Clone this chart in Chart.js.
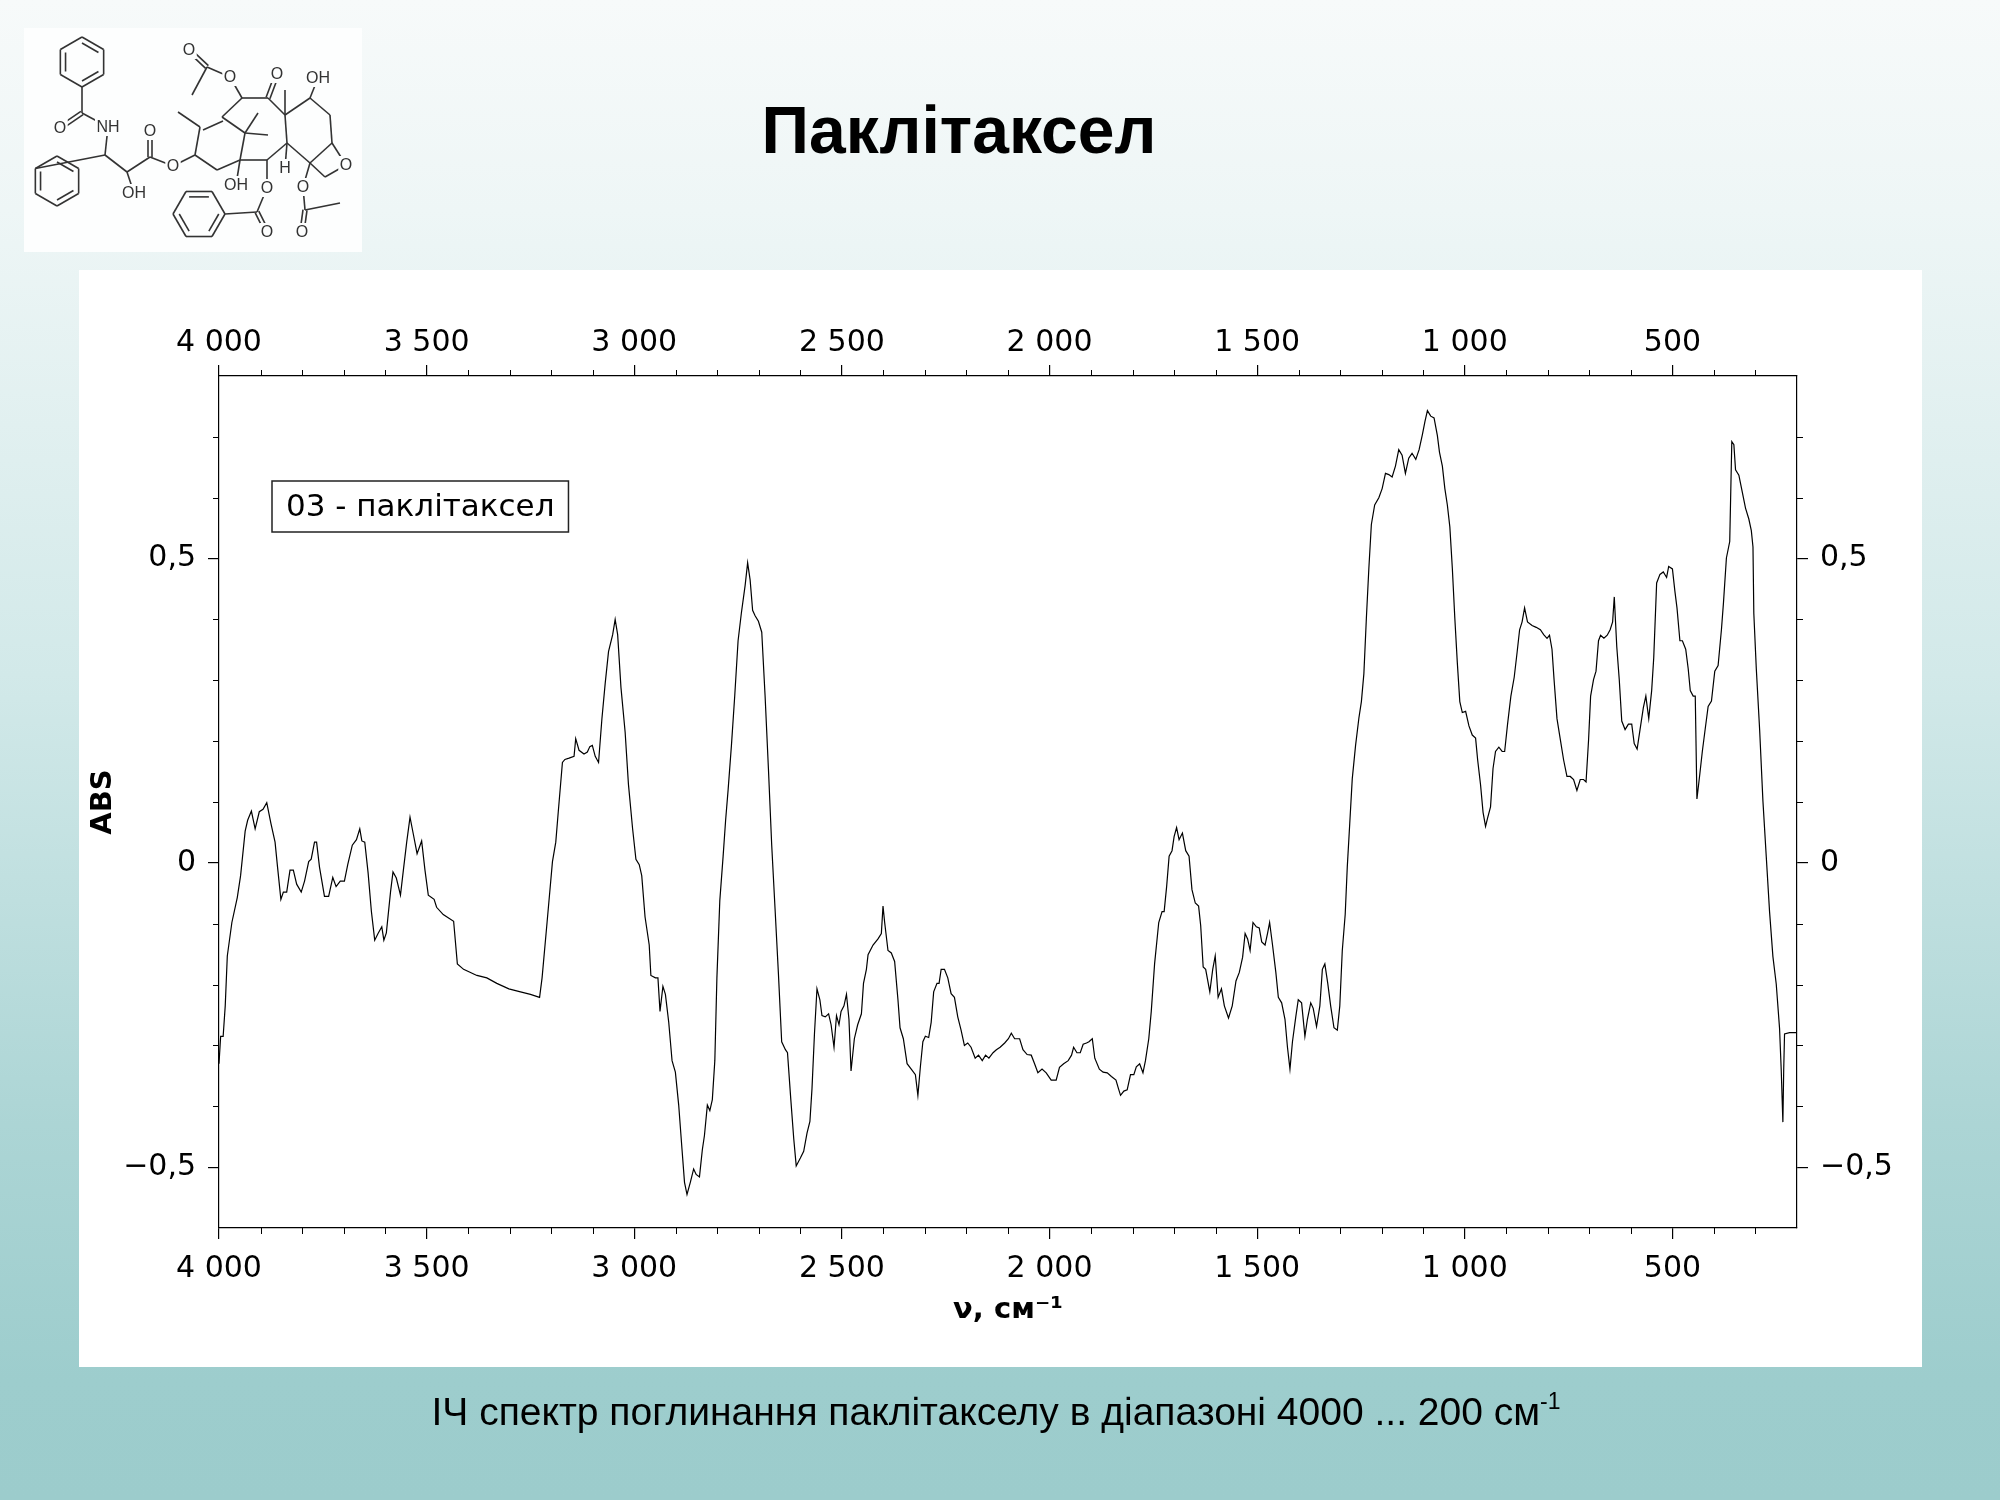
<!DOCTYPE html>
<html>
<head>
<meta charset="utf-8">
<title>Паклітаксел</title>
<script src="https://cdn.jsdelivr.net/npm/chart.js@4.4.0/dist/chart.umd.min.js"></script>
<style>
  body { margin: 0; }
  #page {
    position: relative; width: 2000px; height: 1500px; overflow: hidden;
    background: linear-gradient(to bottom, #f7fafa 0%, #eef6f6 14%, #d2e9e9 45%, #acd5d5 75%, #9dcdcd 92%, #9ccccc 100%);
  }
  #molecule { position: absolute; left: 0; top: 0; }
  .title {
    position: absolute; left: 0; top: 96px; width: 1918px; margin: 0;
    text-align: center; font: bold 66px/68px "Liberation Sans", Arial, sans-serif; color: #000;
  }
  .panel { position: absolute; left: 79px; top: 270px; width: 1843px; height: 1097px; background: #fff; }
  #spectrum { position: absolute; left: 0; top: 0; }
  .caption {
    position: absolute; left: 0; top: 1389px; width: 1992px; margin: 0;
    text-align: center; font: 39px/46px "Liberation Sans", Arial, sans-serif; color: #000;
  }
  .caption sup { font-size: 23px; vertical-align: 16px; line-height: 0; }
</style>
</head>
<body>
<div id="page">
  <canvas id="molecule" width="400" height="280"></canvas>
  <h1 class="title">Паклітаксел</h1>
  <div class="panel"></div>
  <canvas id="spectrum" width="2000" height="1500"></canvas>
  <p class="caption">ІЧ спектр поглинання паклітакселу в діапазоні 4000 ... 200 см<sup>-1</sup></p>
</div>
<script>
// IR spectrum (cm-1 / ABS)
const seriesName = '03 - паклітаксел';
const xTickValues = [4000, 3500, 3000, 2500, 2000, 1500, 1000, 500];
const yTickValues = [-0.5, 0, 0.5];

const wavenumbers = [
  4000, 3996, 3990, 3985, 3980, 3969, 3956, 3948, 3937, 3931, 3922, 3913, 3903, 3894, 3885, 3875,
  3865, 3859, 3851, 3845, 3837, 3829, 3821, 3813, 3802, 3794, 3784, 3778, 3770, 3765, 3758, 3746,
  3736, 3726, 3718, 3708, 3698, 3690, 3679, 3669, 3661, 3656, 3649, 3641, 3633, 3625, 3617, 3608,
  3603, 3597, 3587, 3581, 3573, 3563, 3556, 3548, 3540, 3532, 3523, 3512, 3504, 3496, 3482, 3476,
  3460, 3435, 3426, 3411, 3379, 3355, 3331, 3302, 3274, 3250, 3228,
  3222, 3210, 3197, 3189, 3183, 3173, 3167, 3157, 3145, 3141, 3133, 3121, 3113, 3107, 3101, 3094,
  3086, 3078, 3070, 3062, 3052, 3046, 3040, 3032, 3022, 3014, 3004, 2996, 2988, 2982, 2974, 2964,
  2960, 2949, 2943, 2938, 2931, 2925, 2917, 2909, 2901, 2893, 2885, 2879, 2873, 2865, 2857, 2851,
  2843, 2836, 2831, 2824, 2818, 2812, 2806, 2801, 2794, 2786, 2780, 2774, 2766, 2758, 2750, 2742,
  2733, 2727, 2721, 2715, 2709, 2701, 2693, 2685, 2677, 2669, 2661, 2653, 2645, 2636, 2631, 2623,
  2616, 2610, 2600, 2592, 2584, 2577, 2572, 2566, 2560, 2553, 2548, 2540, 2532, 2526, 2519, 2513,
  2507, 2502, 2495, 2489, 2483,
  2478, 2470, 2462, 2453, 2448, 2441, 2437, 2425, 2413, 2405, 2401, 2397, 2389, 2381, 2373, 2365,
  2360, 2352, 2343, 2333, 2323, 2317, 2311, 2305, 2299, 2291, 2285, 2279, 2271, 2266, 2261, 2253,
  2245, 2237, 2229, 2221, 2213, 2205, 2197, 2189, 2179, 2171, 2162, 2154, 2146, 2136, 2128, 2119,
  2108, 2099, 2092, 2084, 2072, 2064, 2054, 2044, 2036, 2028, 2018, 2008, 1996, 1984, 1976, 1966,
  1955, 1947, 1942, 1934, 1926, 1919, 1911, 1905, 1897, 1891, 1880, 1871, 1861, 1851, 1840, 1834,
  1829, 1821, 1813, 1805, 1797, 1791, 1783, 1775, 1769, 1761, 1755, 1747, 1737,
  1729, 1724, 1718, 1712, 1705, 1700, 1694, 1688, 1680, 1672, 1664, 1657, 1649, 1641, 1636, 1630,
  1624, 1614, 1607, 1601, 1594, 1586, 1579, 1569, 1560, 1551, 1543, 1535, 1529, 1523, 1517, 1510,
  1502, 1495, 1489, 1481, 1475, 1470, 1463, 1455, 1449, 1441, 1433, 1427, 1421, 1415, 1407, 1401,
  1393, 1385, 1379, 1371, 1365, 1357, 1349, 1343, 1337, 1330, 1323, 1315, 1307, 1301, 1295, 1288,
  1283, 1277, 1271, 1263, 1255, 1249, 1243, 1237, 1231, 1225, 1217, 1207, 1199, 1191, 1183, 1175,
  1167, 1159, 1151, 1143, 1135, 1127, 1118, 1110, 1102, 1096, 1090, 1082, 1074, 1066, 1061, 1054,
  1048, 1042, 1036, 1030, 1024, 1018, 1012, 1006, 998, 990,
  982, 974, 969, 962, 956, 950, 945, 938, 932, 926, 918, 910, 904, 897, 889, 881,
  874, 868, 862, 856, 849, 838, 828, 818, 810, 802, 796, 790, 785, 778, 770, 762,
  754, 746, 738, 730, 722, 714, 708, 702, 697, 690, 684, 678, 673, 665, 657, 650,
  644, 640, 634, 628, 622, 614, 606, 598, 592, 585, 578, 570, 564, 557, 550, 545,
  538, 530, 522, 514, 509, 500, 494, 489, 482, 476, 468, 462, 457, 450, 445, 441,
  434, 428, 422, 414, 406, 398, 390, 382, 377, 370, 362, 357, 352, 348, 340, 332,
  324, 316, 310, 306, 304, 298, 290, 282, 274, 266, 258, 250, 242, 238, 234, 232,
  230, 218, 200
];

const absorbance = [
  -0.33, -0.285, -0.285, -0.235, -0.153, -0.098, -0.057, -0.021, 0.052, 0.07, 0.085, 0.056, 0.084, 0.088, 0.099, 0.065,
  0.034, -0.007, -0.06, -0.048, -0.048, -0.012, -0.012, -0.035, -0.048, -0.03, 0.002, 0.006, 0.034, 0.034, -0.007, -0.055,
  -0.055, -0.024, -0.039, -0.03, -0.03, -0.003, 0.029, 0.038, 0.056, 0.036, 0.034, -0.016, -0.08, -0.127, -0.116, -0.105,
  -0.127, -0.115, -0.048, -0.015, -0.025, -0.053, -0.012, 0.034, 0.075, 0.047, 0.015, 0.036, -0.012, -0.053, -0.06, -0.073,
  -0.085, -0.096, -0.166, -0.175, -0.185, -0.189, -0.198, -0.207, -0.212, -0.216, -0.221,
  -0.189, -0.098, 0.002, 0.034, 0.084, 0.165, 0.17, 0.172, 0.175, 0.204, 0.185, 0.179, 0.182, 0.191, 0.193, 0.175,
  0.165, 0.236, 0.295, 0.347, 0.375, 0.4, 0.375, 0.288, 0.215, 0.129, 0.056, 0.006, -0.003, -0.021, -0.089, -0.135,
  -0.185, -0.189, -0.189, -0.244, -0.203, -0.216, -0.262, -0.325, -0.344, -0.398, -0.471, -0.525, -0.545, -0.525, -0.503, -0.512,
  -0.516, -0.471, -0.448, -0.398, -0.407, -0.389, -0.325, -0.189, -0.062, 0.011, 0.07, 0.12, 0.193, 0.275, 0.365, 0.411,
  0.456, 0.493, 0.465, 0.415, 0.406, 0.397, 0.379, 0.275, 0.156, 0.029, -0.075, -0.18, -0.294, -0.307, -0.312, -0.389,
  -0.453, -0.498, -0.485, -0.474, -0.444, -0.425, -0.371, -0.28, -0.207, -0.225, -0.251, -0.253, -0.248, -0.266, -0.303, -0.251,
  -0.266, -0.244, -0.235, -0.216, -0.257,
  -0.342, -0.289, -0.266, -0.248, -0.198, -0.175, -0.151, -0.135, -0.125, -0.116, -0.071, -0.098, -0.144, -0.148, -0.162, -0.225,
  -0.271, -0.289, -0.33, -0.339, -0.348, -0.382, -0.335, -0.294, -0.285, -0.287, -0.262, -0.212, -0.198, -0.198, -0.175, -0.175,
  -0.189, -0.215, -0.221, -0.253, -0.275, -0.3, -0.296, -0.303, -0.321, -0.316, -0.325, -0.316, -0.321, -0.312, -0.307, -0.303,
  -0.296, -0.289, -0.28, -0.289, -0.289, -0.307, -0.315, -0.316, -0.33, -0.345, -0.339, -0.345, -0.357, -0.357, -0.336, -0.33,
  -0.325, -0.316, -0.303, -0.312, -0.312, -0.298, -0.296, -0.294, -0.289, -0.321, -0.339, -0.344, -0.345, -0.351, -0.357, -0.371,
  -0.382, -0.375, -0.373, -0.348, -0.348, -0.335, -0.33, -0.345, -0.325, -0.289, -0.244, -0.166, -0.098,
  -0.08, -0.08, -0.039, 0.011, 0.02, 0.043, 0.058, 0.038, 0.049, 0.02, 0.011, -0.044, -0.066, -0.071, -0.103, -0.171,
  -0.175, -0.212, -0.175, -0.153, -0.221, -0.207, -0.235, -0.255, -0.235, -0.194, -0.18, -0.155, -0.116, -0.125, -0.144, -0.098,
  -0.105, -0.107, -0.13, -0.135, -0.116, -0.098, -0.135, -0.18, -0.221, -0.23, -0.257, -0.303, -0.339, -0.294, -0.253, -0.225,
  -0.23, -0.285, -0.257, -0.23, -0.239, -0.269, -0.235, -0.175, -0.166, -0.198, -0.235, -0.271, -0.275, -0.235, -0.144, -0.085,
  -0.007, 0.065, 0.138, 0.193, 0.238, 0.265, 0.311, 0.402, 0.484, 0.556, 0.588, 0.6, 0.615, 0.64, 0.638, 0.634,
  0.652, 0.679, 0.67, 0.64, 0.665, 0.673, 0.663, 0.679, 0.704, 0.725, 0.743, 0.734, 0.731, 0.702, 0.675, 0.652,
  0.615, 0.588, 0.552, 0.484, 0.402, 0.329, 0.265, 0.247, 0.249, 0.225,
  0.21, 0.205, 0.169, 0.128, 0.083, 0.06, 0.074, 0.092, 0.155, 0.183, 0.19, 0.183, 0.183, 0.228, 0.274, 0.305,
  0.346, 0.383, 0.396, 0.419, 0.396, 0.39, 0.387, 0.383, 0.375, 0.369, 0.374, 0.351, 0.301, 0.237, 0.203, 0.169,
  0.142, 0.142, 0.137, 0.119, 0.137, 0.137, 0.133, 0.201, 0.274, 0.301, 0.315, 0.365, 0.374, 0.369, 0.374, 0.383,
  0.396, 0.437, 0.355, 0.301, 0.233, 0.219, 0.228, 0.228, 0.196, 0.187, 0.219, 0.255, 0.274, 0.237, 0.283, 0.337,
  0.46, 0.474, 0.478, 0.469, 0.487, 0.483, 0.446, 0.419, 0.365, 0.365, 0.351, 0.319, 0.283, 0.274, 0.274, 0.105,
  0.146, 0.183, 0.215, 0.257, 0.266, 0.315, 0.324, 0.383, 0.428, 0.501, 0.528, 0.692, 0.687, 0.646, 0.637, 0.61,
  0.583, 0.565, 0.546, 0.519, 0.41, 0.319, 0.219, 0.101, 0.01, -0.081, -0.154, -0.199, -0.272, -0.34, -0.426, -0.34,
  -0.281, -0.279, -0.279
];

// ---------- molecule sketch in the top-left corner ----------
function drawMolecule() {
  const c = document.getElementById('molecule').getContext('2d');
  c.fillStyle = '#fdfefe';
  c.fillRect(24, 28, 338, 224);
  c.strokeStyle = '#333';
  c.lineWidth = 1.6;

  const P = {
    carb: [82, 113], o1: [60, 128], n: [108, 127], ca: [105, 155], cb: [127, 172], oh1: [134, 193],
    ce: [150, 157], o2: [150, 131], oe: [173, 166], c13: [195, 155], c12: [200, 127], me12: [178, 112],
    c11: [222, 117], c15: [245, 133], c1: [240, 160], c14: [217, 170], c10: [242, 98], c9: [268, 98],
    o9: [277, 74], c8: [285, 115], me8: [285, 90], c7: [310, 98], oh7: [318, 78], c6: [330, 115],
    c5: [332, 143], c4: [310, 163], c3: [287, 143], ox: [346, 165], cx: [325, 177], h3: [285, 168],
    oh1b: [236, 185], c2: [267, 160], o2b: [267, 188], cbz: [257, 212], obz: [267, 232], o4: [303, 187],
    cac: [305, 210], oac: [302, 232], meac: [340, 203], me15a: [258, 113], me15b: [268, 135],
    o10: [230, 77], cac10: [207, 67], oac10: [189, 50], me10: [192, 95]
  };

  const line = (a, b) => { c.beginPath(); c.moveTo(a[0], a[1]); c.lineTo(b[0], b[1]); c.stroke(); };
  const dbl = (a, b) => {
    const dx = b[0] - a[0], dy = b[1] - a[1], len = Math.hypot(dx, dy);
    const ox = -dy / len * 2, oy = dx / len * 2;
    line([a[0] + ox, a[1] + oy], [b[0] + ox, b[1] + oy]);
    line([a[0] - ox, a[1] - oy], [b[0] - ox, b[1] - oy]);
  };
  const ring = (cx, cy, r, start) => {
    const pts = [];
    for (let i = 0; i < 6; i++) {
      const t = (start + i * 60) * Math.PI / 180;
      pts.push([cx + r * Math.cos(t), cy + r * Math.sin(t)]);
    }
    for (let i = 0; i < 6; i++) line(pts[i], pts[(i + 1) % 6]);
    for (let i = 0; i < 6; i += 2) {
      const a = pts[i], b = pts[(i + 1) % 6];
      const s = 0.76;
      line([cx + (a[0] - cx) * s, cy + (a[1] - cy) * s], [cx + (b[0] - cx) * s, cy + (b[1] - cy) * s]);
    }
    return pts;
  };

  const r1 = ring(82, 62, 25, -90);
  const r2 = ring(57, 181, 25, -90);
  const r3 = ring(199, 214, 26, 0);
  line(r1[3], P.carb);
  line(r2[5], P.ca);
  line(r3[0], P.cbz);

  const singles = [
    ['carb', 'n'], ['n', 'ca'], ['ca', 'cb'], ['cb', 'oh1'], ['cb', 'ce'], ['ce', 'oe'], ['oe', 'c13'],
    ['c13', 'c12'], ['c11', 'c15'], ['c15', 'c1'], ['c1', 'c14'], ['c14', 'c13'], ['c12', 'me12'],
    ['c11', 'c10'], ['c10', 'c9'], ['c9', 'c8'], ['c8', 'me8'], ['c8', 'c7'], ['c7', 'oh7'], ['c7', 'c6'],
    ['c6', 'c5'], ['c5', 'c4'], ['c4', 'c3'], ['c3', 'c8'], ['c5', 'ox'], ['ox', 'cx'], ['cx', 'c4'],
    ['c3', 'h3'], ['c3', 'c2'], ['c2', 'c1'], ['c1', 'oh1b'], ['c2', 'o2b'], ['o2b', 'cbz'],
    ['c4', 'o4'], ['o4', 'cac'], ['cac', 'meac'], ['c15', 'me15a'], ['c15', 'me15b'],
    ['c10', 'o10'], ['o10', 'cac10'], ['cac10', 'me10']
  ];
  singles.forEach(([a, b]) => line(P[a], P[b]));
  [['carb', 'o1'], ['ce', 'o2'], ['c9', 'o9'], ['cbz', 'obz'], ['cac', 'oac'], ['cac10', 'oac10']]
    .forEach(([a, b]) => dbl(P[a], P[b]));
  // ring A double bond, inner line
  line([P.c12[0] + 3, P.c12[1] + 3], [P.c11[0] + 1, P.c11[1] + 4]);

  const labels = [
    ['o1', 'O'], ['n', 'NH'], ['oh1', 'OH'], ['o2', 'O'], ['oe', 'O'], ['o9', 'O'], ['oh7', 'OH'],
    ['ox', 'O'], ['h3', 'H'], ['oh1b', 'OH'], ['o2b', 'O'], ['obz', 'O'], ['o4', 'O'], ['oac', 'O'],
    ['o10', 'O'], ['oac10', 'O']
  ];
  c.font = '16px "Liberation Sans", Arial, sans-serif';
  c.textAlign = 'center';
  c.textBaseline = 'middle';
  labels.forEach(([k, t]) => {
    const [x, y] = P[k];
    const w = c.measureText(t).width + 3;
    c.fillStyle = '#fdfefe';
    c.fillRect(x - w / 2, y - 9, w, 18);
    c.fillStyle = '#333';
    c.fillText(t, x, y + 1);
  });
}
drawMolecule();

// ---------- spectrum ----------
const fmtWn = v => String(v).replace(/\B(?=(\d{3})+(?!\d))/g, ' ');
const fmtAbs = v => v === 0 ? '0' : (v < 0 ? '\u2212' : '') + Math.abs(v).toFixed(1).replace('.', ',');

const tickFont = { family: '"DejaVu Sans"', size: 30 };
const titleFont = { family: '"DejaVu Sans"', size: 29, weight: 'bold' };

const gridOpts = {
  drawOnChartArea: false, drawTicks: true, tickLength: 11,
  color: '#000', tickColor: '#000', lineWidth: 1.2
};
const borderOpts = { display: true, color: '#000', width: 1.2 };

// minor ticks every 100 cm-1 and every 0.1 ABS, pointing outwards
const minorTicks = {
  id: 'minorTicks',
  afterDraw(chart) {
    const { ctx, chartArea: a, scales } = chart;
    ctx.save();
    ctx.strokeStyle = '#000';
    ctx.lineWidth = 1;
    ctx.beginPath();
    for (let w = 300; w < 4000; w += 100) {
      if (w % 500 === 0) continue;
      const px = Math.round(scales.x.getPixelForValue(w)) + 0.5;
      ctx.moveTo(px, a.top); ctx.lineTo(px, a.top - 6);
      ctx.moveTo(px, a.bottom); ctx.lineTo(px, a.bottom + 6);
    }
    for (let k = -5; k <= 7; k++) {
      if (k % 5 === 0) continue;
      const py = Math.round(scales.y.getPixelForValue(k / 10)) + 0.5;
      ctx.moveTo(a.left, py); ctx.lineTo(a.left - 6, py);
      ctx.moveTo(a.right, py); ctx.lineTo(a.right + 6, py);
    }
    ctx.stroke();
    ctx.restore();
  }
};

// framed series label in the upper left of the plot
const seriesBox = {
  id: 'seriesBox',
  afterDraw(chart) {
    const { ctx, chartArea: a } = chart;
    ctx.save();
    ctx.font = '31px "DejaVu Sans"';
    const w = ctx.measureText(seriesName).width + 28;
    const x = a.left + 53, y = a.top + 105, h = 51;
    ctx.fillStyle = '#fff';
    ctx.fillRect(x, y, w, h);
    ctx.strokeStyle = '#222';
    ctx.lineWidth = 1.5;
    ctx.strokeRect(x, y, w, h);
    ctx.fillStyle = '#000';
    ctx.textBaseline = 'middle';
    ctx.fillText(seriesName, x + 14, y + h / 2 + 1);
    ctx.restore();
  }
};

const xAxis = (position, height, withTitle, pad) => ({
  type: 'linear', position, reverse: true, min: 200, max: 4000,
  afterBuildTicks: s => { s.ticks = xTickValues.map(v => ({ value: v })); },
  afterFit: s => { s.height = height; },
  grid: gridOpts, border: borderOpts,
  ticks: { font: tickFont, color: '#000', padding: pad, maxRotation: 0, autoSkip: false, callback: fmtWn },
  title: { display: withTitle, text: 'ν, см⁻¹', font: titleFont, color: '#000', padding: { top: 0, bottom: 0 } }
});

const yAxis = (position, width, withTitle) => ({
  type: 'linear', position, min: -0.6, max: 0.8,
  afterBuildTicks: s => { s.ticks = yTickValues.map(v => ({ value: v })); },
  afterFit: s => { s.width = width; },
  grid: gridOpts, border: borderOpts,
  ticks: { font: tickFont, color: '#000', padding: 12, callback: fmtAbs },
  title: { display: withTitle, text: 'ABS', font: titleFont, color: '#000', padding: { top: 7, bottom: 4 } }
});

const ctx = document.getElementById('spectrum').getContext('2d');
const spectrumChart = new Chart(ctx, {
  type: 'line',
  data: {
    datasets: [{
      label: seriesName,
      data: wavenumbers.map((w, i) => ({ x: w, y: absorbance[i] })),
      borderColor: '#000',
      borderWidth: 1.2,
      pointRadius: 0,
      tension: 0,
      fill: false,
      xAxisID: 'x',
      yAxisID: 'y'
    }]
  },
  options: {
    responsive: false,
    animation: false,
    layout: { padding: { left: 79, right: 103, top: 296, bottom: 172 } },
    plugins: { legend: { display: false }, tooltip: { enabled: false } },
    scales: {
      x: xAxis('bottom', 100, true, 12),
      x2: xAxis('top', 80, false, 4),
      y: yAxis('left', 140, true),
      y2: yAxis('right', 100, false)
    }
  },
  plugins: [minorTicks, seriesBox]
});
</script>
</body>
</html>
